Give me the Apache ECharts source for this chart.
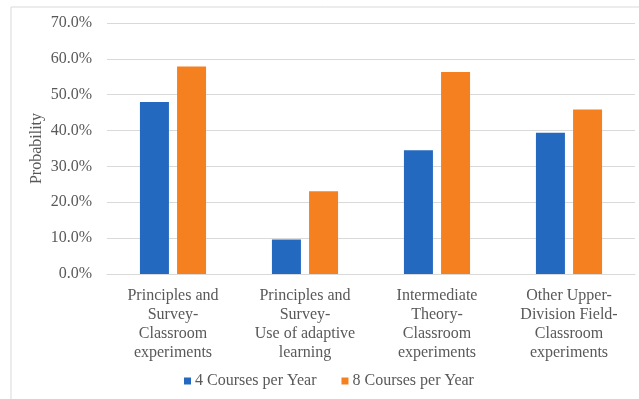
<!DOCTYPE html>
<html>
<head>
<meta charset="utf-8">
<script src="https://cdn.jsdelivr.net/npm/echarts@6/dist/echarts.min.js"></script>
<style>
  html, body { margin: 0; padding: 0; background: #fff; }
  #chart { width: 639px; height: 399px; }
</style>
</head>
<body>
<div id="chart"></div>
<script>
// Course categories (axis labels, pre-broken into lines)
var categories = [
  'Principles and\nSurvey-\nClassroom\nexperiments',
  'Principles and\nSurvey-\nUse of adaptive\nlearning',
  'Intermediate\nTheory-\nClassroom\nexperiments',
  'Other Upper-\nDivision Field-\nClassroom\nexperiments'
];
// Probability (%) by teaching load
var fourCourses = [48.0, 9.6, 34.5, 39.4];
var eightCourses = [57.9, 23.1, 56.3, 45.9];
var seriesNames = ['4 Courses per Year', '8 Courses per Year'];
var yAxisTitle = 'Probability';

var font = '"Liberation Serif", "Times New Roman", serif';
var textColor = '#595959';

var chart = echarts.init(document.getElementById('chart'), null, { renderer: 'canvas' });
chart.setOption({
  animation: false,
  backgroundColor: '#ffffff',
  textStyle: { fontFamily: font },
  graphic: [{
    type: 'rect',
    shape: { x: 11, y: 7, width: 700, height: 500 },
    style: { fill: 'none', stroke: '#d9d9d9', lineWidth: 1 },
    silent: true
  }],
  legend: {
    left: 179,
    top: 368,
    itemWidth: 7,
    itemHeight: 7,
    itemGap: 25,
    icon: 'rect',
    textStyle: { fontFamily: font, fontSize: 16, color: textColor, padding: [0, 0, 0, -1] },
    data: seriesNames
  },
  grid: { left: 107, right: 4, top: 23, bottom: 125, containLabel: false },
  xAxis: {
    type: 'category',
    data: categories,
    axisLine: { lineStyle: { color: '#d9d9d9', width: 1 } },
    axisTick: { show: false },
    axisLabel: {
      interval: 0,
      margin: 12,
      fontFamily: font,
      fontSize: 16,
      lineHeight: 19,
      color: textColor,
      align: 'center'
    }
  },
  yAxis: {
    type: 'value',
    min: 0,
    max: 70,
    interval: 10,
    name: yAxisTitle,
    nameLocation: 'middle',
    nameGap: 62,
    nameMoveOverlap: false,
    nameRotate: 90,
    nameTextStyle: { fontFamily: font, fontSize: 16, color: textColor },
    axisLine: { show: false },
    axisTick: { show: false },
    splitLine: { lineStyle: { color: '#d9d9d9', width: 1 } },
    axisLabel: {
      margin: 15,
      fontFamily: font,
      fontSize: 16,
      color: textColor,
      formatter: function (v) { return v.toFixed(1) + '%'; }
    }
  },
  series: [
    {
      name: seriesNames[0],
      type: 'bar',
      data: fourCourses,
      barWidth: 29,
      barGap: '28%',
      itemStyle: { color: '#2469c0' }
    },
    {
      name: seriesNames[1],
      type: 'bar',
      data: eightCourses,
      barWidth: 29,
      itemStyle: { color: '#f58020' }
    }
  ]
});
</script>
</body>
</html>
